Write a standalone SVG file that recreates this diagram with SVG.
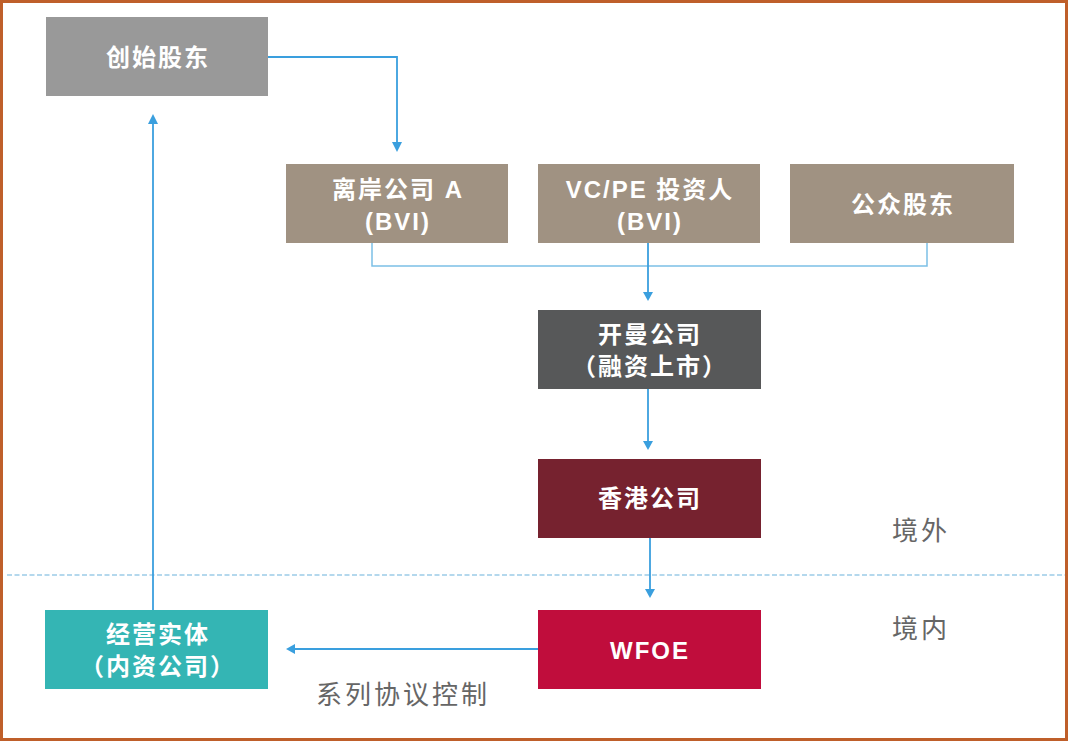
<svg xmlns="http://www.w3.org/2000/svg" width="1068" height="741" viewBox="0 0 1068 741">
<defs>
<style>
.bt{font-family:"Liberation Sans","Noto Sans CJK SC",sans-serif;font-size:24px;font-weight:bold;fill:#ffffff;text-anchor:middle;letter-spacing:2px}
.lbl{font-family:"Noto Sans CJK SC","Liberation Sans",sans-serif;font-size:26px;fill:#666666;letter-spacing:3px}
.c{fill:none;stroke:#3a9fde;stroke-width:1.8}
.c2{fill:none;stroke:#7cc0e6;stroke-width:1.5}
.ah{fill:#3a9fde}
</style>
</defs>
<rect x="0" y="0" width="1068" height="741" fill="#ffffff"/>
<rect x="1.5" y="1.5" width="1065" height="738" fill="none" stroke="#bf5f2a" stroke-width="3"/>
<line x1="7" y1="575" x2="1065" y2="575" stroke="#9ccbe8" stroke-width="1.5" stroke-dasharray="5,2.5"/>
<g id="connectors">
<path class="c" d="M268,57 H397 V143"/>
<path class="ah" d="M392,142 L402,142 L397,152 z"/>
<path class="c2" d="M372,233 V266 H927 V232"/>
<path class="c" d="M648,243 V292"/>
<path class="ah" d="M643,292 L653,292 L648,301 z"/>
<path class="c" d="M648,389 V441"/>
<path class="ah" d="M643,441 L653,441 L648,450 z"/>
<path class="c" d="M650,538 V589"/>
<path class="ah" d="M645,589 L655,589 L650,598 z"/>
<path class="c" d="M538,649 H295"/>
<path class="ah" d="M295,644 L295,654 L286,649 z"/>
<path class="c" d="M153,610 V124"/>
<path class="ah" d="M148,124 L158,124 L153,114 z"/>
</g>
<g id="founder">
<rect x="46" y="17" width="222" height="79" fill="#999999"/>
<text class="bt" x="158" y="66">创始股东</text>
</g>
<g id="offshoreA">
<rect x="286" y="164" width="222" height="79" fill="#a09282"/>
<text class="bt" x="398" y="198">离岸公司 A</text>
<text class="bt" x="398" y="230">(BVI)</text>
</g>
<g id="vcpe">
<rect x="538" y="164" width="222" height="79" fill="#a09282"/>
<text class="bt" x="650" y="198">VC/PE 投资人</text>
<text class="bt" x="650" y="230">(BVI)</text>
</g>
<g id="public">
<rect x="790" y="164" width="224" height="79" fill="#a09282"/>
<text class="bt" x="903" y="213">公众股东</text>
</g>
<g id="cayman">
<rect x="538" y="310" width="223" height="79" fill="#575859"/>
<text class="bt" x="650" y="343">开曼公司</text>
<text class="bt" x="650" y="375">（融资上市）</text>
</g>
<g id="hk">
<rect x="538" y="459" width="223" height="79" fill="#76222f"/>
<text class="bt" x="650" y="507">香港公司</text>
</g>
<g id="wfoe">
<rect x="538" y="610" width="223" height="79" fill="#c00d3c"/>
<text class="bt" x="650" y="659">WFOE</text>
</g>
<g id="opco">
<rect x="45" y="610" width="223" height="79" fill="#34b5b4"/>
<text class="bt" x="158" y="643">经营实体</text>
<text class="bt" x="158" y="675">（内资公司）</text>
</g>
<text class="lbl" x="316" y="704">系列协议控制</text>
<text class="lbl" x="892" y="540">境外</text>
<text class="lbl" x="892" y="638">境内</text>
</svg>
